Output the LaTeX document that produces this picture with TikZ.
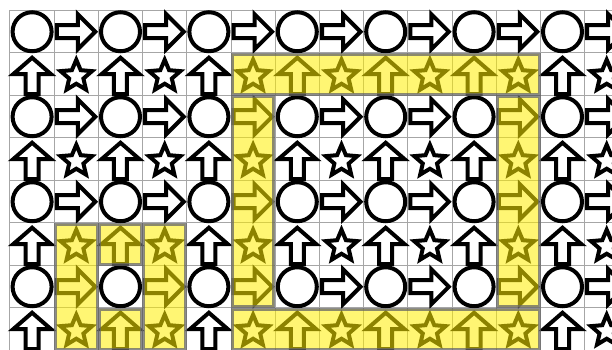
\documentclass[tikz,border=0pt]{standalone}

\begin{document}
\begin{tikzpicture}[x=1.326cm,y=-1.275cm,
  figline/.style={draw=black,fill=white,line width=0.12cm,line join=miter},
  gridline/.style={draw=black!35,line width=0.03cm},
  hilite/.style={fill={rgb,255:red,255;green,238;blue,0},fill opacity=0.55,
    draw=black!60,draw opacity=0.75,line width=0.09cm},
  px/.style={x=0.03cm,y=-0.03cm}]
\useasboundingbox (-0.2262,-0.247) rectangle (13.62,7.965);
\foreach \c in {0,...,14} \draw[gridline] (\c,0) -- (\c,8);
\foreach \r in {0,...,8} \draw[gridline] (0,\r) -- (14,\r);
\foreach \c in {0,...,13}
  \foreach \r in {0,...,7} {
    \begin{scope}[shift={(\c+0.5,\r+0.5)},px]
    \pgfmathtruncatemacro\kind{mod(\c,2)+2*mod(\r,2)}
    \ifcase\kind
      \draw[figline] (0,0) circle[radius=19.5];
    \or
      \draw[figline] (-19.5,-6.5) -- (1.5,-6.5) -- (1.5,-17.5) -- (19,0) -- (1.5,17.5) -- (1.5,6.5) -- (-19.5,6.5) -- cycle;
    \or
      \draw[figline] (-6.5,20) -- (-6.5,0) -- (-19,0) -- (0,-16.5) -- (19,0) -- (6.5,0) -- (6.5,20) -- cycle;
    \or
      \draw[figline] (0,2) +(-90:16.5) -- +(-54:7.5) -- +(-18:16.5) -- +(18:7.5) -- +(54:16.5)
        -- +(90:7.5) -- +(126:16.5) -- +(162:7.5) -- +(198:16.5) -- +(234:7.5) -- cycle;
    \fi
    \end{scope}
  }
\foreach \a/\b/\e/\f in {5/1/12/2, 5/2/6/7, 11/2/12/7, 5/7/12/8,
    1/5/2/8, 3/5/4/8, 2/5/3/6, 2/7/3/8}
  \draw[hilite] (\a+0.03,\b+0.03) rectangle (\e-0.03,\f-0.03);
\end{tikzpicture}
\end{document}
